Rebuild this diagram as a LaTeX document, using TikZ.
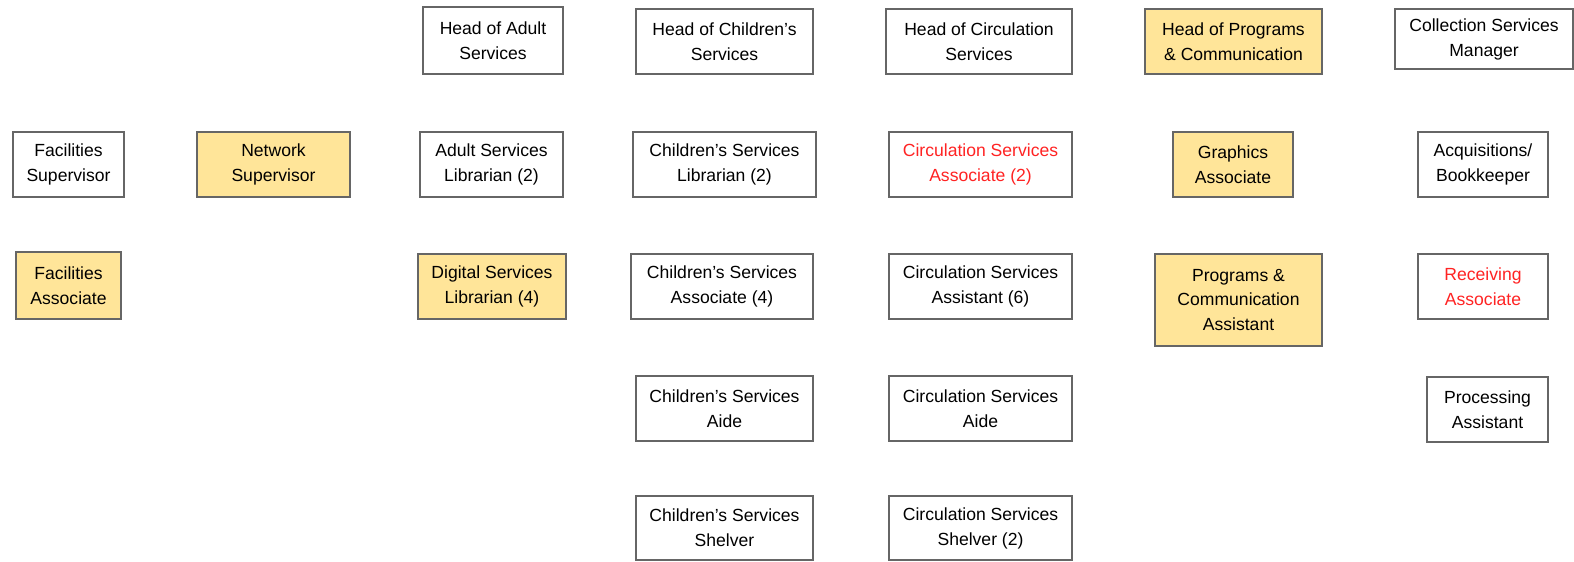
\documentclass[tikz,border=0pt]{standalone}
\usepackage{fontspec}
\setmainfont{Liberation Sans}
\definecolor{roleyellow}{RGB}{255,229,153}
\definecolor{rolered}{RGB}{255,35,35}

\begin{document}
\begin{tikzpicture}[
    x=0.02cm, y=-0.02cm,
    font=\fontsize{10}{14.2}\selectfont,
    role/.style={draw=black!60, line width=0.8pt, fill=white,
                 align=center, inner sep=0pt},
    roleY/.style={role, fill=roleyellow},
    roleR/.style={role, text=rolered},
  ]
  \useasboundingbox (0,0) rectangle (1574,561);

  % heads of department
  \foreach \n/\xa/\ya/\xb/\yb/\sty/\lab in {
    hadult/423/7/563/74/role/{Head of Adult\\Services},
    hchild/636/9/813/74/role/{Head of Children's\\Services},
    hcirc/886/9/1072/74/role/{Head of Circulation\\Services},
    hprog/1145/9/1322/74/roleY/{Head of Programs\\\& Communication},
    collmgr/1395/9/1573/69/role/{Collection Services\\Manager}} {
    \node[\sty, minimum width={(\xb-\xa)*0.02cm},
          minimum height={(\yb-\ya)*0.02cm}]
      (\n) at ({(\xa+\xb)/2},{(\ya+\yb)/2}) {\lab};
  }

  % staff
  \foreach \n/\xa/\ya/\xb/\yb/\sty/\lab in {
    facsup/13/132/124/197/role/{Facilities\\Supervisor},
    netsup/197/132/350/197/roleY/{Network\\Supervisor},
    adultlib/420/132/563/197/role/{Adult Services\\Librarian (2)},
    childlib/633/132/816/197/role/{Children's Services\\Librarian (2)},
    circassoc/889/132/1072/197/roleR/{Circulation Services\\Associate (2)},
    graphassoc/1173/132/1293/197/roleY/{Graphics\\Associate},
    acqbook/1418/132/1548/197/role/{Acquisitions{/}\\Bookkeeper},
    facassoc/16/252/121/319/roleY/{Facilities\\Associate},
    digilib/418/254/566/319/roleY/{Digital Services\\Librarian (4)},
    childassoc/631/254/813/319/role/{Children's Services\\Associate (4)},
    circasst/889/254/1072/319/role/{Circulation Services\\Assistant (6)},
    progasst/1155/254/1322/346/roleY/{Programs \&\\Communication\\Assistant},
    recassoc/1418/254/1548/319/roleR/{Receiving\\Associate},
    childaide/636/376/813/441/role/{Children's Services\\Aide},
    circaide/889/376/1072/441/role/{Circulation Services\\Aide},
    procasst/1427/377/1548/442/role/{Processing\\Assistant},
    childshelv/636/496/813/560/role/{Children's Services\\Shelver},
    circshelv/889/496/1072/560/role/{Circulation Services\\Shelver (2)}} {
    \node[\sty, minimum width={(\xb-\xa)*0.02cm},
          minimum height={(\yb-\ya)*0.02cm}]
      (\n) at ({(\xa+\xb)/2},{(\ya+\yb)/2}) {\lab};
  }
\end{tikzpicture}
\end{document}
